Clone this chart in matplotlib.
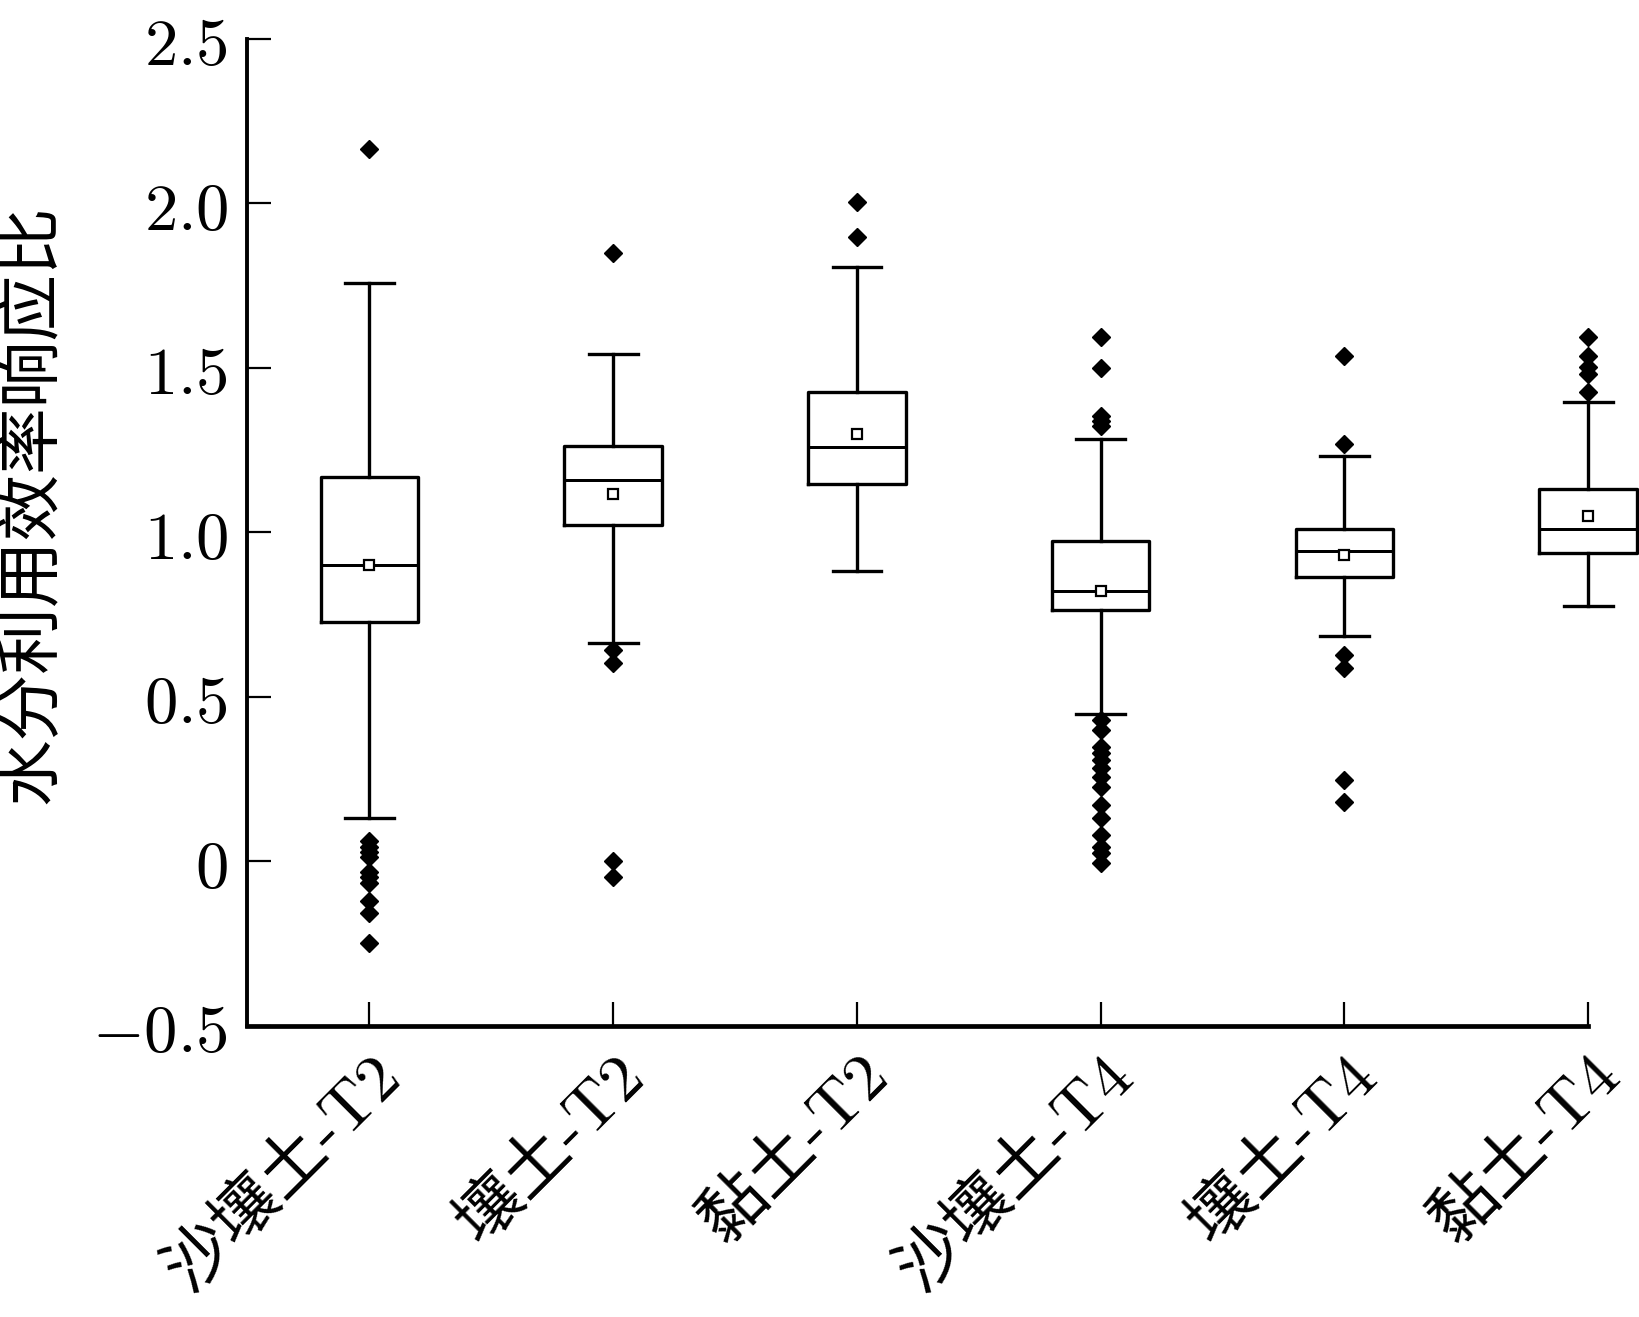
import numpy as np
import matplotlib
matplotlib.use("Agg")
import matplotlib.pyplot as plt

# box statistics (water use efficiency response ratio)
groups = ["沙壤土-T2", "壤土-T2", "黏土-T2", "沙壤土-T4", "壤土-T4", "黏土-T4"]
q1 = [0.728, 1.021, 1.148, 0.763, 0.863, 0.937]
med = [0.901, 1.160, 1.259, 0.823, 0.943, 1.010]
q3 = [1.167, 1.262, 1.427, 0.975, 1.010, 1.131]
whislo = [0.131, 0.665, 0.881, 0.448, 0.685, 0.776]
whishi = [1.758, 1.541, 1.805, 1.284, 1.231, 1.397]
means = [0.900, 1.116, 1.300, 0.821, 0.931, 1.051]
fliers = [
    [2.164, 0.062, 0.045, 0.030, 0.012, -0.031, -0.048, -0.067, -0.119, -0.156, -0.249],
    [1.849, 0.643, 0.602, 0.000, -0.047],
    [2.005, 1.897],
    [1.595, 1.500, 1.354, 1.338, 1.322,
     0.430, 0.399, 0.348, 0.328, 0.308, 0.283, 0.257, 0.227,
     0.171, 0.131, 0.080, 0.045, 0.025, -0.006],
    [1.535, 1.267, 0.627, 0.587, 0.247, 0.181],
    [1.595, 1.536, 1.501, 1.481, 1.427],
]

yticks = [-0.5, 0, 0.5, 1.0, 1.5, 2.0, 2.5]
ytick_labels = [r"$-0.5$", r"$0$", r"$0.5$", r"$1.0$", r"$1.5$", r"$2.0$", r"$2.5$"]
ylabel = "水分利用效率响应比"

plt.rcParams["mathtext.fontset"] = "cm"
plt.rcParams["font.family"] = ["Noto Sans CJK SC", "DejaVu Sans"]

stats = []
for i in range(len(groups)):
    stats.append({
        "q1": q1[i], "med": med[i], "q3": q3[i],
        "whislo": whislo[i], "whishi": whishi[i],
        "mean": means[i], "fliers": fliers[i],
    })

fig = plt.figure(figsize=(16.39, 13.17), dpi=100)
ax = fig.add_axes([0.151, 0.221, 0.818, 0.7496])

lw = 2.4
positions = np.arange(1, len(groups) + 1)
art = ax.bxp(
    stats,
    positions=positions,
    widths=0.4,
    showmeans=True,
    showfliers=True,
    boxprops=dict(color="black", linewidth=lw),
    medianprops=dict(color="black", linewidth=lw * 0.9),
    whiskerprops=dict(color="black", linewidth=lw),
    capprops=dict(color="black", linewidth=lw),
    capwidths=0.2,
    flierprops=dict(marker="D", markerfacecolor="black", markeredgecolor="black",
                    markersize=9, linestyle="none"),
    meanprops=dict(marker="s", markerfacecolor="white", markeredgecolor="black",
                   markersize=7.5, markeredgewidth=1.6),
)
for key in art:
    for a in art[key]:
        a.set_clip_on(False)

ax.set_xlim(0.5, 6.0)
ax.set_ylim(-0.5, 2.5)

ax.spines["top"].set_visible(False)
ax.spines["right"].set_visible(False)
ax.spines["left"].set_linewidth(2.8)
ax.spines["bottom"].set_linewidth(3.4)

ax.set_yticks(yticks, labels=ytick_labels)
ax.set_xticks(positions)
ax.set_xticklabels(groups, rotation=45, ha="right", va="top",
                   rotation_mode="anchor", fontsize=48,
                   family=["cmr10", "Noto Sans CJK SC"])
ax.tick_params(axis="both", direction="in", length=17, width=1.6)
ax.tick_params(axis="y", labelsize=48, pad=14)
ax.tick_params(axis="x", pad=13)

ax.set_ylabel(ylabel, fontsize=48)
ax.yaxis.set_label_coords(-0.136, 0.529)

fig.savefig("out.png", dpi=100)
plt.close(fig)
